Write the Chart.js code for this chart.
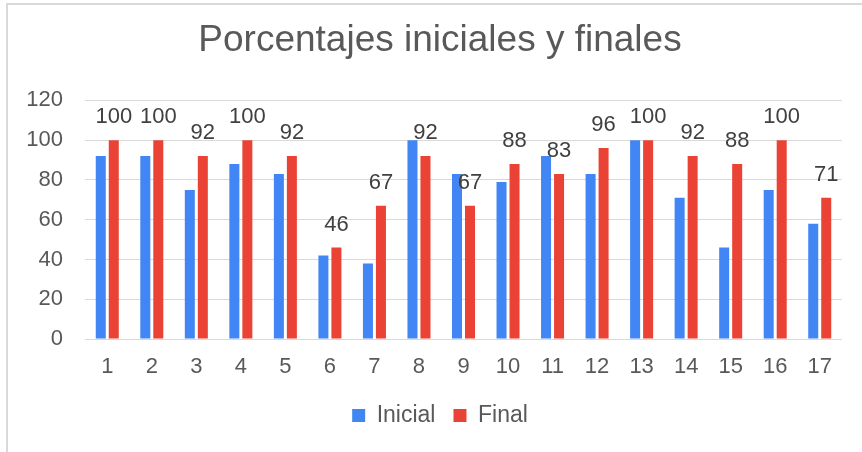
<!DOCTYPE html>
<html>
<head>
<meta charset="utf-8">
<script src="https://cdn.jsdelivr.net/npm/chart.js@4"></script>
<style>
  html, body { margin: 0; padding: 0; background: #fff; overflow: hidden; }
  #marco { position: absolute; left: 6px; top: 3px; width: 900px; height: 500px; border: 2px solid #d9d9d9; }
  #caja { position: absolute; left: 0; top: 0; width: 862px; height: 452px; }
</style>
</head>
<body>
<div id="marco"></div>
<div id="caja"><canvas id="myChart"></canvas></div>
<script>
var categorias = ["1","2","3","4","5","6","7","8","9","10","11","12","13","14","15","16","17"]
var inicial = [92, 92, 75, 88, 83, 42, 38, 100, 83, 79, 92, 83, 100, 71, 46, 75, 58]
var final = [100, 100, 92, 100, 92, 46, 67, 92, 67, 88, 83, 96, 100, 92, 88, 100, 71]

var fuente = "'Liberation Sans', Arial, sans-serif"

// etiquetas encima de las barras de la serie Final
var etiquetas = {
  id: 'etiquetas',
  afterLayout(chart) {
    // que las etiquetas del eje y no queden recortadas por el padding izquierdo
    chart.scales.y.left = 0
  },
  afterDatasetsDraw(chart) {
    var ctx = chart.ctx
    var meta = chart.getDatasetMeta(1)
    ctx.save()
    ctx.font = "22px " + fuente
    ctx.fillStyle = "#404040"
    ctx.textAlign = "center"
    ctx.textBaseline = "alphabetic"
    meta.data.forEach(function (barra, i) {
      ctx.fillText(final[i], barra.x, barra.y - 17)
    })
    ctx.restore()
  }
}

function plotarGrafico() {
  const ctx = document.getElementById('myChart')
  new Chart(ctx, {
    type: 'bar',
    data: {
      labels: categorias,
      datasets: [{
        label: 'Inicial',
        data: inicial,
        backgroundColor: '#4285F4',
        categoryPercentage: 0.584,
        barPercentage: 0.77
      }, {
        label: 'Final',
        data: final,
        backgroundColor: '#EA4335',
        categoryPercentage: 0.584,
        barPercentage: 0.77
      }]
    },
    options: {
      responsive: true,
      maintainAspectRatio: false,
      animation: false,
      layout: { padding: { left: 38, right: 20, top: 0, bottom: 15 } },
      plugins: {
        title: {
          display: true,
          text: 'Porcentajes iniciales y finales',
          color: '#595959',
          font: { family: fuente, size: 37, weight: 'normal' },
          padding: { top: 19, bottom: 37 }
        },
        legend: {
          position: 'bottom',
          labels: {
            color: '#595959',
            font: { family: fuente, size: 23 },
            boxWidth: 13,
            boxHeight: 13,
            padding: 18
          }
        },
        tooltip: { enabled: false }
      },
      scales: {
        x: {
          grid: { display: false },
          border: { display: false },
          ticks: { color: '#595959', font: { family: fuente, size: 22 }, padding: 7, maxRotation: 0 },
          afterFit: function (scale) { scale.height = 47 }
        },
        y: {
          min: 0,
          max: 120,
          ticks: { stepSize: 20, color: '#595959', font: { family: fuente, size: 22 }, padding: 22 },
          grid: { color: '#d9d9d9', lineWidth: 1, drawTicks: false },
          border: { display: false },
          afterFit: function (scale) { scale.width = 47 }
        }
      }
    },
    plugins: [etiquetas]
  })
}

plotarGrafico()
</script>
</body>
</html>
